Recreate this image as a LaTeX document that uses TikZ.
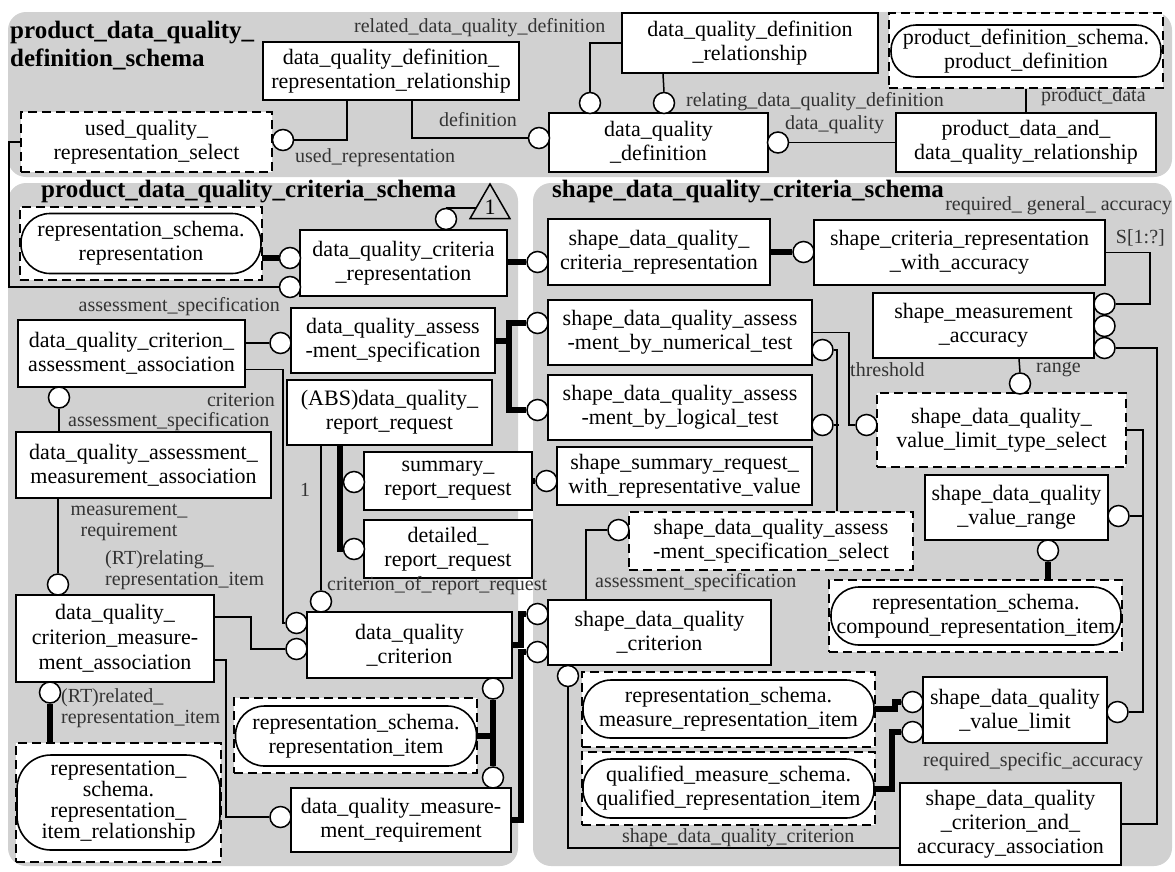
\documentclass[tikz,border=0pt]{standalone}
\usepackage{fontspec}
\setmainfont{Liberation Serif}
\usetikzlibrary{calc, shapes.geometric}

\tikzset{
  entity/.style={draw, fill=white, line width=2pt, align=center, inner sep=0pt, font=\fontsize{22}{24}\selectfont},
  selectbox/.style={draw, fill=white, line width=2pt, dash pattern=on 9pt off 5pt, align=center, inner sep=0pt, font=\fontsize{22}{24}\selectfont},
  extbox/.style={draw, fill=white, line width=2pt, dash pattern=on 9pt off 5pt, inner sep=0pt},
  extref/.style={draw, fill=white, line width=1.6pt, rounded corners=27pt, align=center, inner sep=0pt, font=\fontsize{22}{24}\selectfont},
  attr/.style={draw, fill=white, circle, line width=1.5pt, minimum size=21pt, inner sep=0pt},
  conn/.style={line width=1.5pt},
  subline/.style={line width=6pt},
  lbl/.style={inner sep=0pt, text=black!80, font=\fontsize{20}{21}\selectfont},
  region/.style={fill=black!18, rounded corners=18pt},
  schemaname/.style={inner sep=0pt, align=left, font=\fontsize{25}{28}\selectfont\bfseries},
}

\begin{document}
\begin{tikzpicture}[x=1pt, y=-1pt]

    \useasboundingbox (0,0) rectangle (1175,871);

    % schema regions
    \fill[region] (8,12) rectangle (1172,177);
    \fill[region] (8,183) rectangle (518,866);
    \fill[region] (533,183) rectangle (1172,866);

    % product_data_quality_definition_schema
    \node[schemaname, anchor=west] (defname) at (10,46) {product\_data\_quality\_\\definition\_schema};
    \node[entity, minimum width=256pt, minimum height=58pt] (dqdefrep) at (391,71) {data\_quality\_definition\_\\representation\_relationship};
    \node[entity, minimum width=256pt, minimum height=60pt] (dqdefrel) at (750,43) {data\_quality\_definition\\\_relationship};
    \node[extbox, minimum width=274pt, minimum height=75pt] (pdbox) at (1026,50.5) {};
    \node[extref, minimum width=270pt, minimum height=52pt, rounded corners=25pt] (pdref) at (1026,51) {product\_definition\_schema.\\product\_definition};
    \node[selectbox, minimum width=251pt, minimum height=60pt] (usedsel) at (146.5,142) {used\_quality\_\\representation\_select};
    \node[entity, minimum width=219pt, minimum height=59pt] (dqdef) at (658.5,142.5) {data\_quality\\\_definition};
    \node[entity, minimum width=260pt, minimum height=59pt] (pddqrel) at (1026,142.5) {product\_data\_and\_\\data\_quality\_relationship};

    \node[attr] (usedrep) at (283,140) {};
    \node[attr] (definition) at (539,138) {};
    \node[attr] (relateddef) at (590,103) {};
    \node[attr] (relatingdef) at (664,103) {};
    \node[attr] (dataquality) at (778,142.5) {};

    \draw[conn] (usedrep.east) -| ([xshift=85pt]dqdefrep.south west);
    \draw[conn] (definition.west) -| ([xshift=150pt]dqdefrep.south west);
    \draw[conn] (dqdefrel.west) -| (relateddef.north);
    \draw[conn] ([xshift=42pt]dqdefrel.south west) -- (relatingdef.north);
    \draw[conn] (pddqrel.west) -- (dataquality.east);
    \draw[conn] (pddqrel.north) -- (pddqrel.north |- pdbox.south);

    \node[lbl, anchor=west] (relatedlbl) at (354,28) {related\_data\_quality\_definition};
    \node[lbl, anchor=west] (usedreplbl) at (295,158) {used\_representation};
    \node[lbl, anchor=east] (deflbl) at (517,120) {definition};
    \node[lbl, anchor=west] (relatinglbl) at (686,102) {relating\_data\_quality\_definition};
    \node[lbl, anchor=west] (dataqlbl) at (785,125) {data\_quality};
    \node[lbl, anchor=west] (pdatalbl) at (1041,97) {product\_data};

    % product_data_quality_criteria_schema
    \node[schemaname, anchor=west] (critname) at (41,192) {product\_data\_quality\_criteria\_schema};
    \node[extbox, minimum width=242pt, minimum height=73pt] (repbox) at (141,243.5) {};
    \node[extref, minimum width=240pt, minimum height=60pt, rounded corners=29pt] (repref) at (141,243.5) {representation\_schema.\\representation};
    \node[entity, minimum width=207pt, minimum height=66pt] (dqcritrep) at (403.5,263) {data\_quality\_criteria\\\_representation};
    \node[attr] (critrepref) at (446,219) {};
    \node[regular polygon, regular polygon sides=3, draw, line width=1.5pt, fill=black!18, minimum size=46pt, inner sep=0pt, font=\fontsize{22}{24}\selectfont] (pageref) at (490,207) {1};
    \draw[conn] (critrepref.north) -- (critrepref.north -| pageref.west);

    \node[attr] (reprepl) at (290,258) {};
    \node[attr] (usedrepl) at (290,287) {};
    \draw[subline] (reprepl.west) -- (reprepl.west -| repref.east);
    \draw[conn] (usedsel.west) -- ++(-11,0) |- (usedrepl.west);

    \node[entity, minimum width=227pt, minimum height=67pt] (critassess) at (131.5,353.5) {data\_quality\_criterion\_\\assessment\_association};
    \node[entity, minimum width=204pt, minimum height=65pt] (assessspec) at (393,340.5) {data\_quality\_assess\\-ment\_specification};
    \node[attr] (assessspecl) at (280.5,343) {};
    \draw[conn] (assessspecl.west) -- (assessspecl.west -| critassess.east);
    \node[lbl, anchor=east] (assessspeclbl) at (280,307) {assessment\_specification};

    \node[entity, minimum width=205pt, minimum height=65pt] (reportreq) at (389.5,412.5) {(ABS)data\_quality\_\\report\_request};
    \node[entity, minimum width=168pt, minimum height=58pt] (summaryreq) at (448,481) {summary\_\\report\_request};
    \node[entity, minimum width=168pt, minimum height=58pt] (detailedreq) at (448,549) {detailed\_\\report\_request};
    \node[attr] (summarysub) at (354,482) {};
    \node[attr] (detailedsub) at (354,549) {};
    \draw[subline] ([xshift=-49.5pt]reportreq.south) |- (detailedsub.west);
    \draw[subline] (summarysub.west) -- ++(-4,0);

    \node[entity, minimum width=255pt, minimum height=66pt] (assessmeas) at (143.5,465) {data\_quality\_assessment\_\\measurement\_association};
    \node[attr] (assessmeasl) at (59,397.5) {};
    \draw[conn] (assessmeasl.south) -- (assessmeasl.south |- assessmeas.north);
    \node[lbl, anchor=east] (critlbl) at (275,400) {criterion};
    \node[lbl, anchor=west] (assessspeclbl2) at (68,422) {assessment\_specification};

    \node[entity, minimum width=198pt, minimum height=87pt, font=\fontsize{22}{25}\selectfont] (critmeas) at (115,638.5) {data\_quality\_\\criterion\_measure-\\ment\_association};
    \node[attr] (critmeasl) at (58,584.5) {};
    \draw[conn] (assessmeas.south -| critmeasl) -- (critmeasl.north);
    \node[lbl, align=center] (measreqlbl) at (129,522) {measurement\_\\requirement};
    \node[lbl, align=left, anchor=west] (relatinglbl2) at (105,570) {(RT)relating\_\\representation\_item};

    \node[attr] (relatedsub) at (50,692.5) {};
    \node[extbox, minimum width=205pt, minimum height=119pt] (relbox) at (118.5,802.5) {};
    \node[extref, minimum width=203pt, minimum height=95pt, rounded corners=34pt, font=\fontsize{22}{20}\selectfont] (relref) at (118.5,802.5) {\begin{tabular}{@{}c@{}}representation\_\\schema.\\representation\_\\item\_relationship\end{tabular}};
    \draw[subline] (relatedsub.south) -- (relatedsub.south |- relbox.north);
    \node[lbl, align=left, anchor=west] (relatedlbl2) at (61,708) {(RT)related\_\\representation\_item};

    \node[entity, minimum width=205pt, minimum height=66pt] (dqcrit) at (409.5,645) {data\_quality\\\_criterion};
    \node[attr] (critl) at (296.5,623) {};
    \node[attr] (critmeasr) at (296.5,649) {};
    \node[attr] (reportcrit) at (321,601.5) {};
    \draw[conn] ([yshift=-16pt]critassess.east) -- ++(37,0) |- (critl.west);
    \draw[conn] ([yshift=21.5pt]critmeas.east) -- ++(36,0) |- (critmeasr.west);
    \draw[conn] (reportreq.south -| reportcrit) -- (reportcrit.north);
    \node[lbl] (onelbl) at (305,490) {1};
    \node[lbl, anchor=west] (reportcritlbl) at (327,586) {criterion\_of\_report\_request};

    \node[entity, minimum width=220pt, minimum height=64pt] (measreq) at (401,820) {data\_quality\_measure-\\ment\_requirement};
    \node[attr] (measreql) at (280.5,817) {};
    \draw[conn] ([yshift=-21.5pt]critmeas.east) -- ++(11,0) |- (measreql.west);

    \node[extbox, minimum width=243pt, minimum height=75pt] (itembox) at (355.5,735.5) {};
    \node[extref, minimum width=241pt, minimum height=60pt, rounded corners=29pt] (itemref) at (356,736) {representation\_schema.\\representation\_item};
    \node[attr] (critsub) at (493,688.5) {};
    \node[attr] (measreqsub) at (493,777.5) {};
    \draw[subline] (critsub.south) -- (measreqsub.north);
    \draw[subline] (itemref.east) -- (itemref.east -| critsub);

    % shape_data_quality_criteria_schema
    \node[schemaname, anchor=west] (shapename) at (552,192) {shape\_data\_quality\_criteria\_schema};
    \node[entity, minimum width=222pt, minimum height=66pt] (sdqcritrep) at (659,252) {shape\_data\_quality\_\\criteria\_representation};
    \node[attr] (critrepsub) at (537.5,262) {};
    \draw[subline] (critrepsub.west) -- (critrepsub.west -| dqcritrep.east);

    \node[entity, minimum width=291pt, minimum height=65pt] (critrepacc) at (959.5,252.5) {shape\_criteria\_representation\\\_with\_accuracy};
    \node[attr] (critrepaccsub) at (803.5,252) {};
    \draw[subline] (sdqcritrep.east) -- (critrepaccsub.west);

    \node[entity, minimum width=221pt, minimum height=65pt] (measacc) at (983.5,325.5) {shape\_measurement\\\_accuracy};
    \node[attr] (generalacc) at (1104.5,304) {};
    \node[attr] (midacc) at (1104.5,326) {};
    \node[attr] (specificacc) at (1104.5,348) {};
    \draw[conn] (critrepacc.east) -- ++(44,0) |- (generalacc.east);
    \node[lbl, anchor=east] (generallbl) at (1172,206) {required\_ general\_ accuracy};
    \node[lbl, anchor=east] (setlbl) at (1165,238) {S[1:?]};

    \node[entity, minimum width=264pt, minimum height=65pt] (numtest) at (680,332.5) {shape\_data\_quality\_assess\\-ment\_by\_numerical\_test};
    \node[entity, minimum width=264pt, minimum height=65pt] (logtest) at (680,407.5) {shape\_data\_quality\_assess\\-ment\_by\_logical\_test};
    \node[attr] (numtestsub) at (537.5,323) {};
    \node[attr] (logtestsub) at (537.5,410) {};
    \draw[subline] (numtestsub.west) -- ++(-17,0) |- (logtestsub.west);
    \draw[subline] (assessspec.east) -- ++(15,0);

    \node[entity, minimum width=255pt, minimum height=58pt] (summaryrep) at (684.5,476) {shape\_summary\_request\_\\with\_representative\_value};
    \node[attr] (summaryrepsub) at (546.5,481) {};
    \draw[subline] (summaryreq.east) -- (summaryrepsub.west);

    \node[selectbox, minimum width=284pt, minimum height=58pt] (assesssel) at (771,541) {shape\_data\_quality\_assess\\-ment\_specification\_select};
    \node[attr] (numtestsel) at (822.5,350) {};
    \node[attr] (logtestsel) at (822.5,425) {};
    \draw[conn] (numtestsel.east) -| ([xshift=209pt]assesssel.north west);
    \draw[conn] (logtestsel.east) -- ++(5,0);

    \node[selectbox, minimum width=249pt, minimum height=74pt] (limitsel) at (1001.5,430) {shape\_data\_quality\_\\value\_limit\_type\_select};
    \node[attr] (threshold) at (866.5,425) {};
    \node[attr] (range) at (1020,383.5) {};
    \draw[conn] (numtest.east) -- ++(36,0) |- (threshold.west);
    \draw[conn] ([xshift=147pt]measacc.south west) -- (range.north);
    \node[lbl, anchor=west] (thresholdlbl) at (850,370) {threshold};
    \node[lbl, anchor=west] (rangelbl) at (1036,370) {range};

    \node[entity, minimum width=223pt, minimum height=65pt] (sdqcrit) at (659.5,632.5) {shape\_data\_quality\\\_criterion};
    \node[attr] (sdqcritsub) at (537.5,614) {};
    \node[attr] (sdqcritmeas) at (537.5,652) {};
    \draw[subline] (dqcrit.east) -- ++(8,0) |- (sdqcritsub.west);
    \draw[subline] (measreq.east) -- ++(9,0) |- (sdqcritmeas.west);
    \node[attr] (assessselref) at (618.5,530) {};
    \draw[conn] ([xshift=39pt]sdqcrit.north west) |- (assessselref.west);
    \node[lbl, anchor=west] (assessspeclbl3) at (595,583) {assessment\_specification};

    \node[entity, minimum width=183pt, minimum height=65pt] (valrange) at (1016.5,507.5) {shape\_data\_quality\\\_value\_range};
    \node[attr] (valrangesel) at (1118.5,516) {};
    \draw[conn] (valrangesel.east) -- ++(13,0);
    \node[attr] (compoundsub) at (1048,550.5) {};
    \node[extbox, minimum width=293pt, minimum height=72pt] (compoundbox) at (975.5,616) {};
    \node[extref, minimum width=290pt, minimum height=58pt, rounded corners=28pt] (compoundref) at (976,616) {representation\_schema.\\compound\_representation\_item};
    \draw[subline] (compoundsub.south) -- (compoundsub.south |- compoundbox.north);

    \node[entity, minimum width=184pt, minimum height=66pt] (vallimit) at (1015,710) {shape\_data\_quality\\\_value\_limit};
    \node[attr] (vallimitsel) at (1117.5,712) {};
    \draw[conn] (limitsel.east) -- ++(16,0) |- (vallimitsel.east);
    \node[attr] (measuresub) at (912.5,702) {};
    \node[attr] (qualifiedsub) at (912.5,732) {};

    \node[extbox, minimum width=293pt, minimum height=75pt] (measurebox) at (728.5,709.5) {};
    \node[extref, minimum width=291pt, minimum height=58pt, rounded corners=28pt] (measureref) at (728.5,709) {representation\_schema.\\measure\_representation\_item};
    \node[extbox, minimum width=293pt, minimum height=73pt] (qualbox) at (728.5,788.5) {};
    \node[extref, minimum width=291pt, minimum height=59pt, rounded corners=28pt] (qualref) at (728.5,788.5) {qualified\_measure\_schema.\\qualified\_representation\_item};
    \draw[subline] (measureref.east) -- ++(20,0) |- (measuresub.west);
    \draw[subline] (qualref.east) -- ++(17,0) |- (qualifiedsub.west);
    \node[lbl, anchor=west] (specificlbl) at (923,762) {required\_specific\_accuracy};

    \node[entity, minimum width=221pt, minimum height=82pt, font=\fontsize{22}{24}\selectfont] (critaccassoc) at (1010.5,824) {shape\_data\_quality\\\_criterion\_and\_\\accuracy\_association};
    \draw[conn] (specificacc.east) -- ++(41,0) |- (critaccassoc.east);
    \node[attr] (critaccref) at (568,676) {};
    \draw[conn] (critaccref.south) |- ([yshift=-24pt]critaccassoc.west);
    \node[lbl, anchor=west] (critacclbl) at (622,838) {shape\_data\_quality\_criterion};

\end{tikzpicture}
\end{document}
